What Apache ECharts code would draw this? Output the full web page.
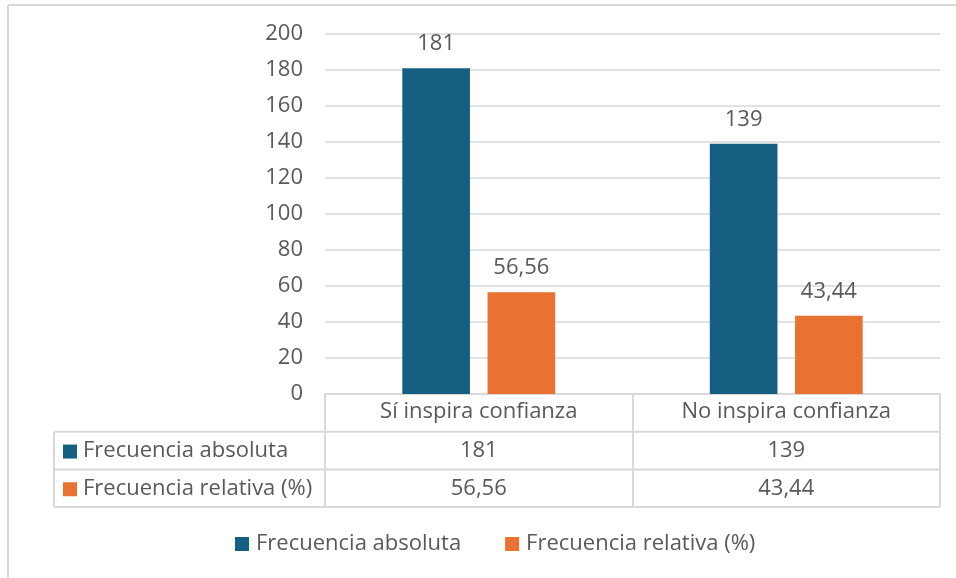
<!DOCTYPE html>
<html>
<head>
<meta charset="utf-8">
<script src="https://cdn.jsdelivr.net/npm/echarts@6/dist/echarts.min.js"></script>
<style>
html,body{margin:0;padding:0;background:#fff;}
#c{width:956px;height:578px;}
</style>
</head>
<body>
<div id="c"></div>
<script>
const categories = ['Sí inspira confianza', 'No inspira confianza'];
const seriesNames = ['Frecuencia absoluta', 'Frecuencia relativa (%)'];
const absoluta = [181, 139];
const relativa = [56.56, 43.44];
const yMax = 200;
const yInterval = 20;

const colors = ['#156082', '#E97132'];
const textColor = '#595959';
const lineColor = '#D9D9D9';
const FONT = 'Open Sans';
const FS = 22;

function fmt(v, dec) { return v.toFixed(dec).replace('.', ','); }
const seriesData = [absoluta, relativa];
const decimals = [0, 2];

const W = 956, H = 578;
const grid = { left: 325, right: 16, top: 34, bottom: 184 };
const axisY = H - grid.bottom;
const rowH = 37.7;

const chart = echarts.init(document.getElementById('c'), null, { renderer: 'canvas' });

const option = {
  animation: false,
  backgroundColor: '#fff',
  textStyle: { fontFamily: FONT },
  grid: grid,
  legend: {
    bottom: 18,
    left: 230,
    itemWidth: 14,
    itemHeight: 14,
    itemGap: 44,
    icon: 'rect',
    textStyle: { color: textColor, fontSize: FS, fontFamily: FONT, padding: [0, 0, 0, 2] },
    data: seriesNames
  },
  xAxis: {
    type: 'category',
    data: categories,
    axisLine: { show: true, lineStyle: { color: lineColor, width: 2 } },
    axisTick: { show: true, length: rowH * 3, lineStyle: { color: lineColor, width: 2 } },
    axisLabel: { color: textColor, fontSize: FS, fontFamily: FONT, margin: 7 },
    splitLine: { show: false }
  },
  yAxis: {
    type: 'value',
    min: 0,
    max: yMax,
    interval: yInterval,
    axisLine: { show: false },
    axisTick: { show: false },
    axisLabel: { color: textColor, fontSize: FS, fontFamily: FONT, margin: 22 },
    splitLine: { lineStyle: { color: lineColor, width: 1.5 } }
  },
  series: seriesNames.map((name, i) => ({
    name: name,
    type: 'bar',
    data: seriesData[i],
    barWidth: '22%',
    barGap: '26%',
    itemStyle: { color: colors[i] },
    label: {
      show: true,
      position: 'top',
      distance: 13,
      color: textColor,
      fontSize: FS,
      fontFamily: FONT,
      formatter: p => fmt(p.value, decimals[i])
    }
  }))
};
chart.setOption(option);

// Data table (layout drawn around the category axis)
const tableLeft = 54;
const right = W - grid.right;
const g = [];
const ls = { stroke: lineColor, lineWidth: 2 };
// outer frame of the chart area
g.push({ type: 'line', shape: { x1: 8, y1: 5, x2: W, y2: 5 }, style: ls, silent: true });
g.push({ type: 'line', shape: { x1: 8, y1: 5, x2: 8, y2: H }, style: ls, silent: true });
for (let r = 1; r <= 3; r++) {
  const y = axisY + rowH * r;
  g.push({ type: 'line', shape: { x1: tableLeft, y1: y, x2: right, y2: y }, style: ls, silent: true });
}
g.push({ type: 'line', shape: { x1: tableLeft, y1: axisY + rowH, x2: tableLeft, y2: axisY + rowH * 3 }, style: ls, silent: true });

seriesNames.forEach((name, i) => {
  const cy = axisY + rowH * (i + 1.5);
  g.push({ type: 'rect', shape: { x: 63, y: cy - 6, width: 14, height: 14 }, style: { fill: colors[i] }, silent: true });
  g.push({ type: 'text', x: 83, y: cy, style: { text: name, fill: textColor, font: FS + 'px "' + FONT + '"', textAlign: 'left', textVerticalAlign: 'middle' }, silent: true });
  categories.forEach((c, j) => {
    const cx = chart.convertToPixel({ xAxisIndex: 0 }, c);
    g.push({ type: 'text', x: cx, y: cy, style: { text: fmt(seriesData[i][j], decimals[i]), fill: textColor, font: FS + 'px "' + FONT + '"', textAlign: 'center', textVerticalAlign: 'middle' }, silent: true });
  });
});
chart.setOption({ graphic: g });
</script>
</body>
</html>
